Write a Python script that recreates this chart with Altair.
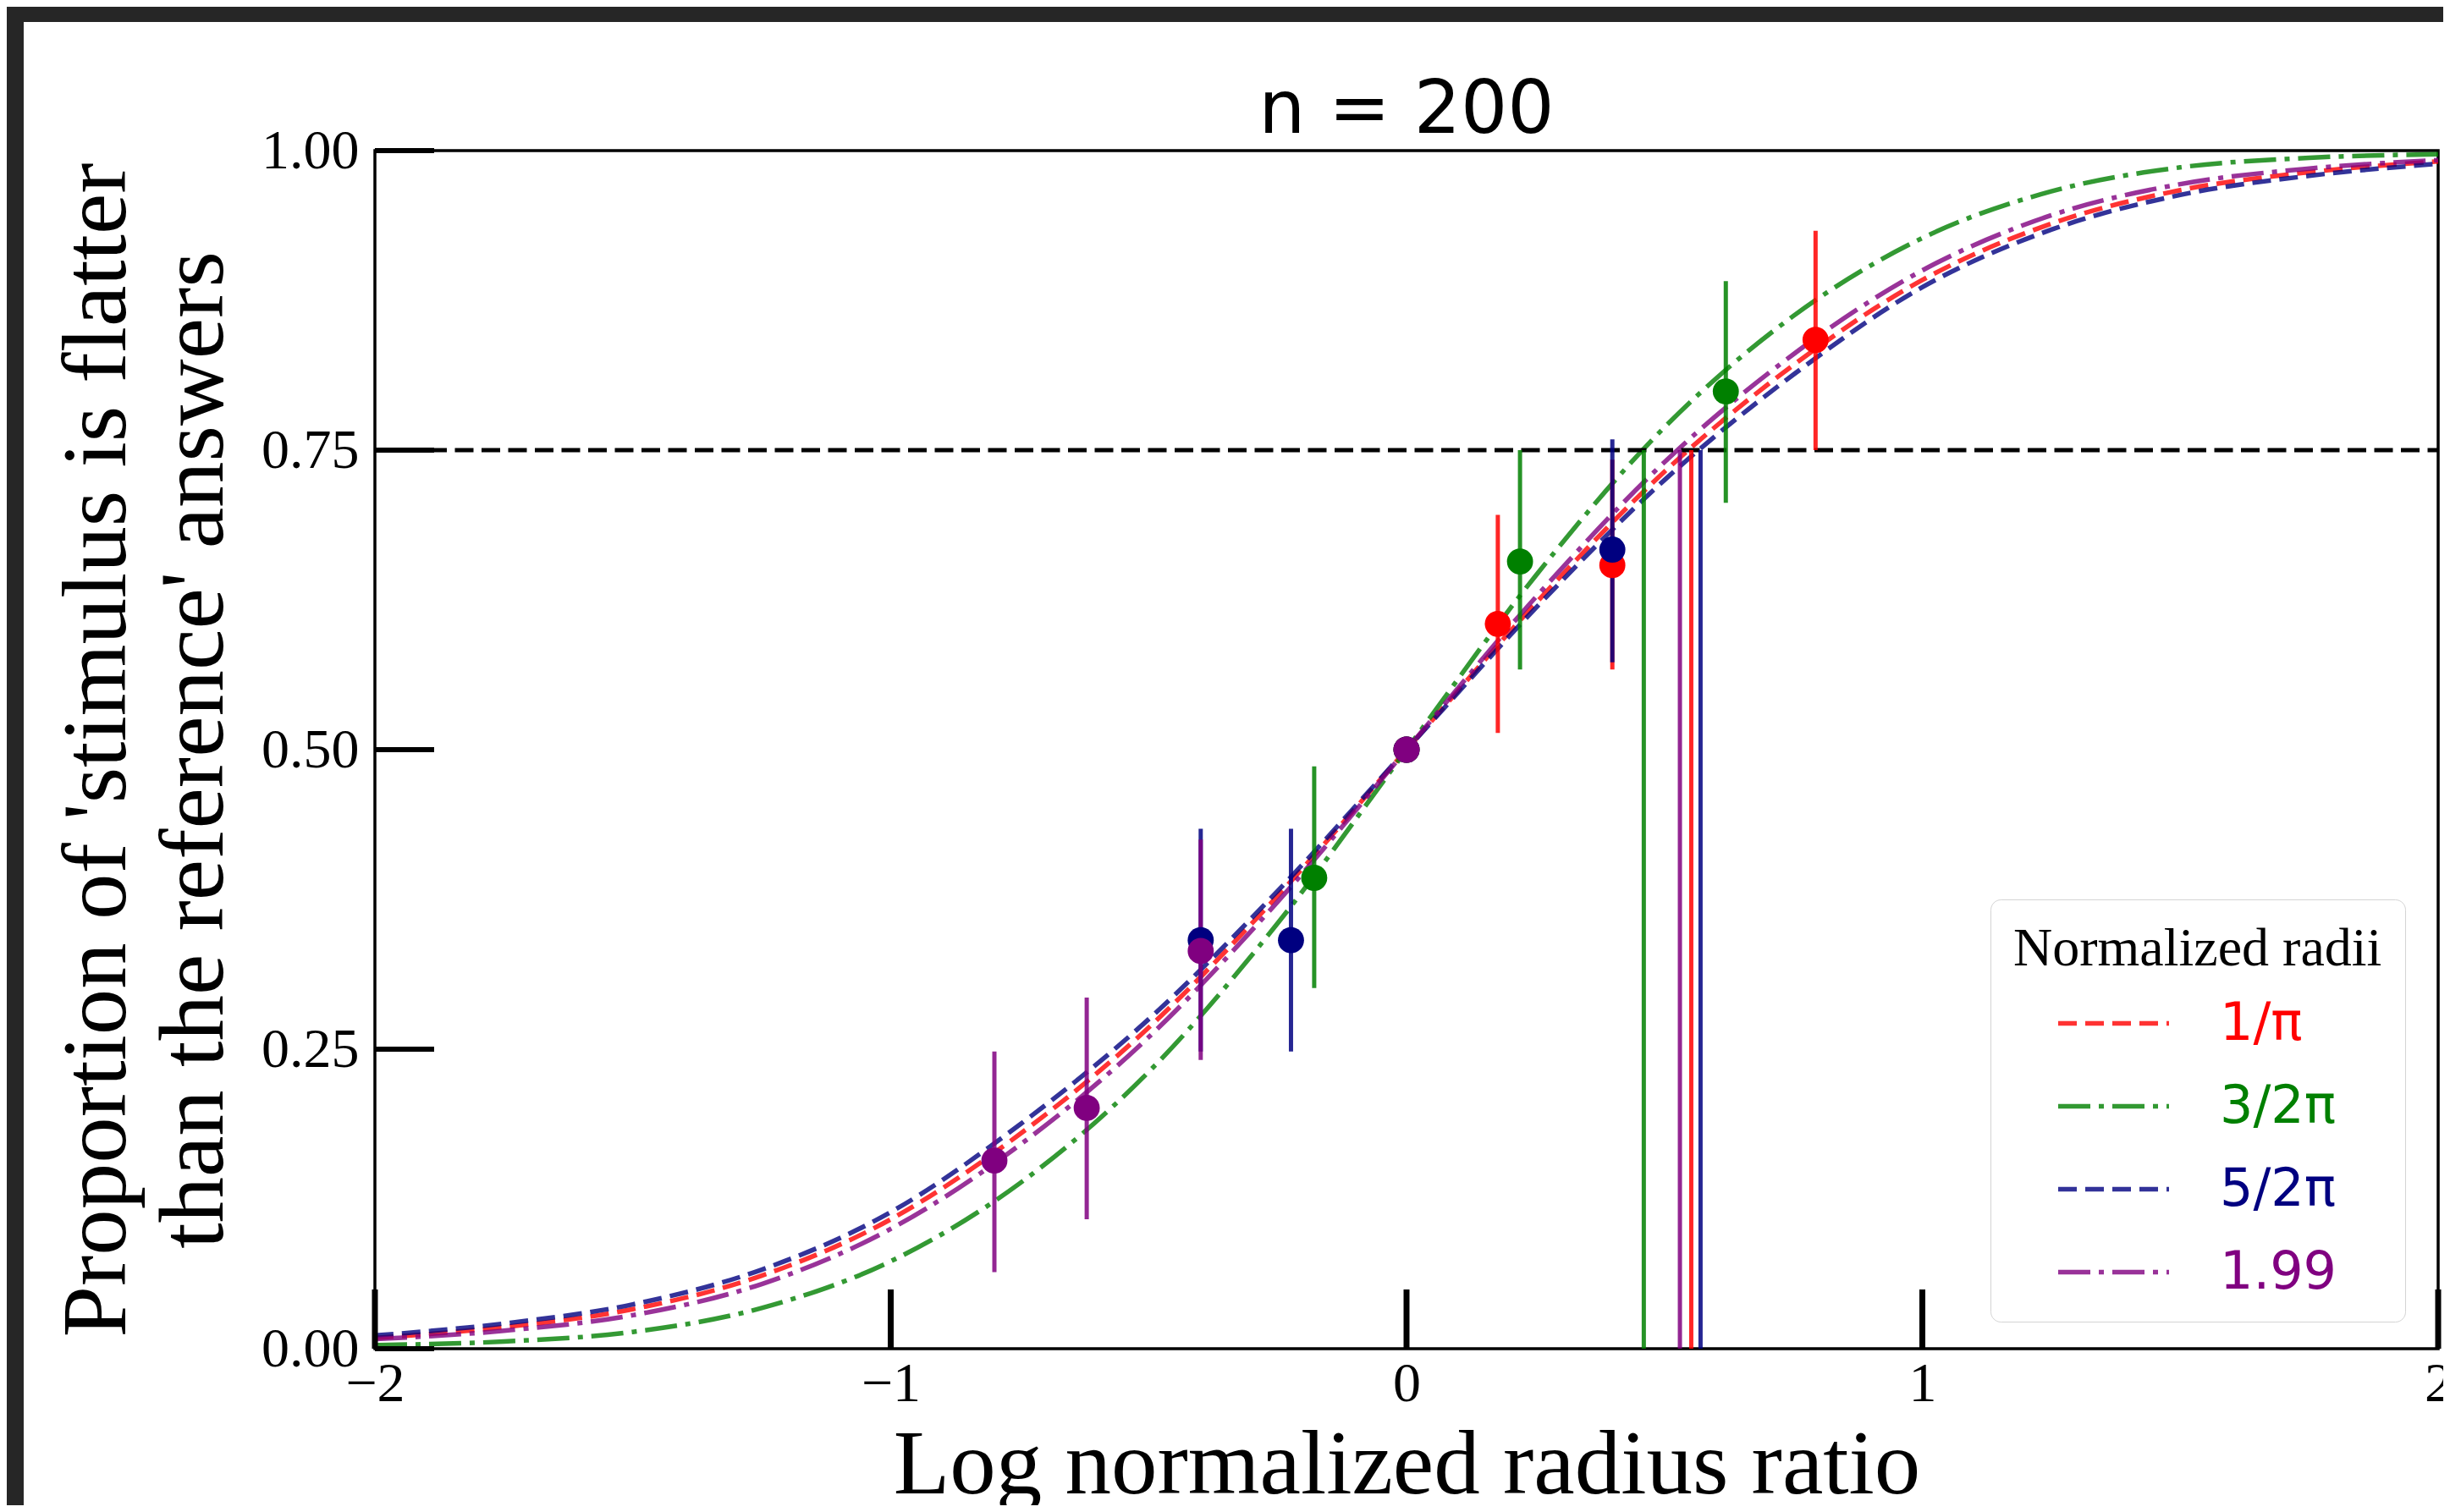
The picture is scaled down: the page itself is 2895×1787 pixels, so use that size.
import altair as alt
import pandas as pd

# ---------------- data ----------------
series = ["1/π", "3/2π", "5/2π", "1.99"]
colors = ["#ff0000", "#008000", "#000080", "#800080"]
dashes = [[22, 10], [38, 10, 6, 10], [22, 10], [38, 10, 6, 10]]

curve_x = [-2, -1.75, -1.5, -1.25, -1, -0.75, -0.5, -0.25, 0,
           0.25, 0.5, 0.75, 1, 1.25, 1.5, 1.75, 2]
curve_red = [0.009, 0.018, 0.033, 0.061, 0.108, 0.179, 0.268, 0.378, 0.5,
             0.622, 0.732, 0.821, 0.892, 0.939, 0.967, 0.982, 0.991]
curve_green = [0.003, 0.006, 0.014, 0.034, 0.073, 0.138, 0.231, 0.355, 0.5,
               0.645, 0.769, 0.862, 0.927, 0.966, 0.986, 0.994, 0.997]
curve_blue = [0.011, 0.021, 0.037, 0.066, 0.114, 0.187, 0.275, 0.382, 0.5,
              0.618, 0.725, 0.813, 0.886, 0.934, 0.963, 0.979, 0.989]
curve_purple = [0.008, 0.015, 0.028, 0.054, 0.100, 0.170, 0.260, 0.373, 0.5,
                0.627, 0.740, 0.830, 0.900, 0.946, 0.972, 0.985, 0.992]

# measured points with error bars
red_x = [0.0, 0.177, 0.399, 0.793]
red_y = [0.5, 0.605, 0.654, 0.842]
red_lo = [0.5, 0.514, 0.567, 0.750]
red_hi = [0.5, 0.696, 0.742, 0.933]

green_x = [-0.179, 0.0, 0.220, 0.619]
green_y = [0.393, 0.5, 0.657, 0.799]
green_lo = [0.301, 0.5, 0.567, 0.706]
green_hi = [0.486, 0.5, 0.750, 0.891]

blue_x = [-0.399, -0.224, 0.0, 0.399]
blue_y = [0.341, 0.341, 0.5, 0.667]
blue_lo = [0.248, 0.248, 0.5, 0.573]
blue_hi = [0.434, 0.434, 0.5, 0.759]

purple_x = [-0.799, -0.620, -0.399, 0.0]
purple_y = [0.157, 0.201, 0.332, 0.5]
purple_lo = [0.064, 0.108, 0.241, 0.5]
purple_hi = [0.248, 0.293, 0.425, 0.5]

# 75% thresholds per series
thresholds = [0.552, 0.460, 0.570, 0.530]
criterion = 0.75

x_ticks = [-2, -1, 0, 1, 2]
y_ticks = [0, 0.25, 0.5, 0.75, 1]

# ---------------- tables ----------------
curves_rows = []
for s, ys_ in zip(series, [curve_red, curve_green, curve_blue, curve_purple]):
    for xv, yv in zip(curve_x, ys_):
        curves_rows.append({"series": s, "x": xv, "y": yv})
curve_df = pd.DataFrame(curves_rows)

pts_rows = []
for s, xs_, ys_, los, his in zip(
        series,
        [red_x, green_x, blue_x, purple_x],
        [red_y, green_y, blue_y, purple_y],
        [red_lo, green_lo, blue_lo, purple_lo],
        [red_hi, green_hi, blue_hi, purple_hi]):
    for a, b, c, d in zip(xs_, ys_, los, his):
        pts_rows.append({"series": s, "x": a, "y": b, "lo": c, "hi": d})
pts_df = pd.DataFrame(pts_rows)

thr_df = pd.DataFrame({"series": series, "x": thresholds,
                       "y": [0] * 4, "y2": [criterion] * 4})
hline_df = pd.DataFrame({"x": [-2], "x2": [2], "y": [criterion]})
xt_df = pd.DataFrame({"x": x_ticks})
yt_df = pd.DataFrame({"y": y_ticks})
one_df = pd.DataFrame({"k": [0]})

# ---------------- layout ----------------
W, H = 2438, 1416
PAD_L, PAD_T = 435, 170

xs = alt.Scale(domain=[-2, 2], nice=False, zero=False)
ys = alt.Scale(domain=[0, 1], nice=False, zero=False)
cscale = alt.Scale(domain=series, range=colors)
dscale = alt.Scale(domain=series, range=dashes)

label_fill = ("['#ff0000','#008000','#000080','#800080']"
              "[indexof(['1/π','3/2π','5/2π','1.99'], datum.value)]")

legend = alt.Legend(
    title="Normalized radii", orient="none", legendX=1909, legendY=885,
    direction="vertical",
    titleFont="Liberation Serif", titleFontSize=64, titleFontWeight="normal",
    titleColor="black", titlePadding=20, titleLimit=800,
    labelFont="DejaVu Sans", labelFontSize=62, labelOffset=90, labelLimit=500,
    labelColor=alt.ExprRef(expr=label_fill),
    symbolType="M-2,0L2,0", symbolSize=4290, symbolStrokeWidth=5.5,
    symbolOffset=83, padding=27, rowPadding=31,
    strokeColor="#d4d4d4", fillColor="white", cornerRadius=12,
)

xaxis = alt.Axis(
    values=x_ticks, format="d", labelExpr="replace(datum.label, '-', '−')",
    grid=False, domain=False, ticks=False, tickSize=0,
    labelFont="Liberation Serif", labelFontSize=66, labelColor="black",
    labelPadding=61, labelBaseline="alphabetic", labelFlush=False,
    labelOverlap=False,
    title="Log normalized radius ratio", titleFont="Liberation Serif",
    titleFontSize=109, titleFontWeight="normal", titleColor="black",
    titleBaseline="alphabetic", titleY=170,
)
yaxis = alt.Axis(
    values=y_ticks, format=".2f",
    grid=False, domain=False, ticks=False, tickSize=0,
    labelFont="Liberation Serif", labelFontSize=66, labelColor="black",
    labelPadding=19, labelBaseline="middle", labelFlush=False,
    labelOverlap=False,
    title=["Proportion of 'stimulus is flatter", "than the reference' answers"],
    titleFont="Liberation Serif", titleFontSize=109, titleFontWeight="normal",
    titleColor="black", titleAngle=270, titleX=-296, titleY=H / 2,
    titleAlign="center", titleBaseline="alphabetic", titleLineHeight=115,
)

curves = alt.Chart(curve_df).mark_line(
    strokeWidth=5.5, opacity=0.8, interpolate="monotone", clip=True
).encode(
    x=alt.X("x:Q", scale=xs, axis=xaxis),
    y=alt.Y("y:Q", scale=ys, axis=yaxis),
    color=alt.Color("series:N", scale=cscale, legend=legend),
    strokeDash=alt.StrokeDash("series:N", scale=dscale, legend=legend),
)

hline = alt.Chart(hline_df).mark_rule(
    color="black", strokeWidth=5, strokeDash=[22, 9.5]
).encode(x=alt.X("x:Q", scale=xs), x2="x2:Q", y=alt.Y("y:Q", scale=ys))

thr = alt.Chart(thr_df).mark_rule(strokeWidth=5, opacity=0.85).encode(
    x=alt.X("x:Q", scale=xs), y=alt.Y("y:Q", scale=ys), y2="y2:Q",
    color=alt.Color("series:N", scale=cscale, legend=None),
)

ebars = alt.Chart(pts_df).mark_rule(strokeWidth=5, opacity=0.85).encode(
    x=alt.X("x:Q", scale=xs), y=alt.Y("lo:Q", scale=ys), y2="hi:Q",
    color=alt.Color("series:N", scale=cscale, legend=None),
)

points = alt.Chart(pts_df).mark_circle(size=950, opacity=1).encode(
    x=alt.X("x:Q", scale=xs), y=alt.Y("y:Q", scale=ys),
    color=alt.Color("series:N", scale=cscale, legend=None),
)

xticks = alt.Chart(xt_df).mark_rule(color="black", strokeWidth=7).encode(
    x=alt.X("x:Q", scale=xs), y=alt.value(H), y2=alt.value(H - 70)
)
yticks = alt.Chart(yt_df).mark_rule(color="black", strokeWidth=6).encode(
    y=alt.Y("y:Q", scale=ys), x=alt.value(0), x2=alt.value(70)
)

frame_top = alt.Chart(one_df).mark_rect(color="#262626").encode(
    x=alt.value(-PAD_L), x2=alt.value(2460), y=alt.value(-PAD_T),
    y2=alt.value(-152)
)
frame_left = alt.Chart(one_df).mark_rect(color="#262626").encode(
    x=alt.value(-PAD_L), x2=alt.value(-415), y=alt.value(-PAD_T),
    y2=alt.value(1620)
)

chart = alt.layer(
    curves, hline, thr, ebars, points, xticks, yticks, frame_top, frame_left
).resolve_scale(
    color="independent", strokeDash="independent"
).properties(
    width=W, height=H,
    autosize=alt.AutoSizeParams(type="none"),
    padding={"left": PAD_L, "top": PAD_T, "right": 6, "bottom": 185},
    background="white",
    title=alt.TitleParams(
        text="n = 200", font="DejaVu Sans", fontSize=87, fontWeight="normal",
        color="black", anchor="middle", frame="group", baseline="alphabetic",
        offset=0, dy=236,
    ),
).configure_view(stroke="black", strokeWidth=3.5)

chart.save("out.html", embed_options={"renderer": "svg", "actions": False})
